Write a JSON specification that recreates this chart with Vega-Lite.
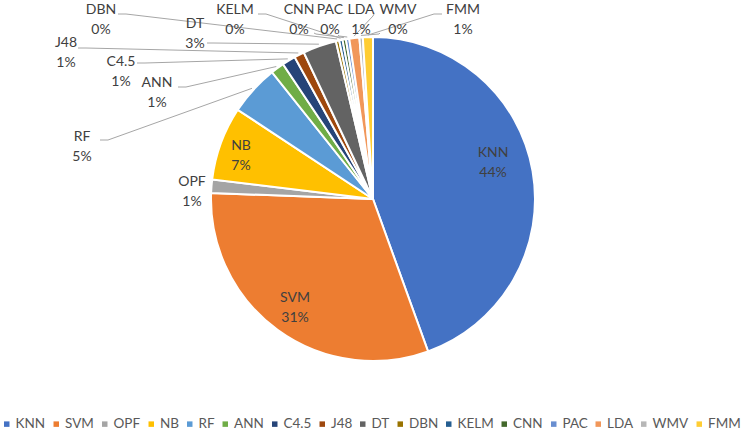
{
  "$schema": "https://vega.github.io/schema/vega-lite/v6.json",
  "width": 746,
  "height": 398,
  "padding": {"left": 0, "top": 0, "right": 5, "bottom": 0},
  "background": "white",
  "config": {"view": {"stroke": null}, "font": "Lato"},
  "data": {
    "values": [
      {"cls": "KNN", "n": 133},
      {"cls": "SVM", "n": 93},
      {"cls": "OPF", "n": 4},
      {"cls": "NB", "n": 22},
      {"cls": "RF", "n": 15},
      {"cls": "ANN", "n": 4},
      {"cls": "C4.5", "n": 4},
      {"cls": "J48", "n": 3},
      {"cls": "DT", "n": 10},
      {"cls": "DBN", "n": 1},
      {"cls": "KELM", "n": 1},
      {"cls": "CNN", "n": 1},
      {"cls": "PAC", "n": 1},
      {"cls": "LDA", "n": 3},
      {"cls": "WMV", "n": 1},
      {"cls": "FMM", "n": 3}
    ]
  },
  "transform": [
    {"window": [{"op": "row_number", "as": "idx"}]},
    {"window": [{"op": "sum", "field": "n", "as": "cum"}], "sort": [{"field": "idx"}], "frame": [null, 0]},
    {"joinaggregate": [{"op": "sum", "field": "n", "as": "total"}]},
    {"calculate": "(datum.cum - datum.n / 2) / datum.total * 2 * PI", "as": "mid"},
    {"calculate": "[datum.cls, format(datum.n / datum.total, '.0%')]", "as": "lbl"},
    {"calculate": "({'KNN':[120,-46],'SVM':[-78,99],'OPF':[-181,-17],'NB':[-132,-53],'RF':[-291,-62],'ANN':[-216,-116],'C4.5':[-252,-137],'J48':[-307,-156],'DT':[-178,-175],'DBN':[-272,-189],'KELM':[-138,-189],'CNN':[-74,-189],'PAC':[-43,-189],'LDA':[-12,-189],'WMV':[25,-189],'FMM':[90,-189]})[datum.cls]", "as": "lp"},
    {"calculate": "datum.lp[0]", "as": "lx"},
    {"calculate": "datum.lp[1]", "as": "ly"}
  ],
  "layer": [
    {
      "transform": [
        {"calculate": "({'DBN':[-255,-185,-247,-185],'KELM':[-115,-185,-107,-185],'CNN':[-59,-166,-57,-165],'PAC':[-35,-164,-34,-163],'LDA':[1,-185,0,-183],'WMV':[7,-166,6,-165],'FMM':[69,-185,61,-185],'DT':[-166,-156,-160,-156],'J48':[-295,-151,-287,-151],'C4.5':[-236,-136,-228,-136],'ANN':[-195,-112,-187,-112],'RF':[-273,-59,-265,-59]})[datum.cls]", "as": "ld"},
        {"filter": "isValid(datum.ld)"},
        {"calculate": "[datum.ld[0], datum.ld[2], 164 * sin(datum.mid)]", "as": "px"},
        {"calculate": "[datum.ld[1], datum.ld[3], -164 * cos(datum.mid)]", "as": "py"},
        {"calculate": "[0, 1, 2]", "as": "k"},
        {"flatten": ["px", "py", "k"]}
      ],
      "mark": {"type": "line", "stroke": "#a6a6a6", "strokeWidth": 1},
      "encoding": {
        "x": {"field": "px", "type": "quantitative", "scale": {"domain": [-373, 373], "nice": false, "zero": false}, "axis": null},
        "y": {"field": "py", "type": "quantitative", "scale": {"domain": [-199, 199], "reverse": true, "nice": false, "zero": false}, "axis": null},
        "detail": {"field": "cls", "type": "nominal"},
        "order": {"field": "k", "type": "quantitative"}
      }
    },
    {
      "mark": {"type": "arc", "outerRadius": 162, "stroke": "#ffffff", "strokeWidth": 2},
      "encoding": {
        "theta": {"field": "n", "type": "quantitative", "stack": true},
        "order": {"field": "idx", "type": "quantitative"},
        "color": {
          "field": "cls",
          "type": "nominal",
          "scale": {
            "domain": ["KNN", "SVM", "OPF", "NB", "RF", "ANN", "C4.5", "J48", "DT", "DBN", "KELM", "CNN", "PAC", "LDA", "WMV", "FMM"],
            "range": ["#4472C4", "#ED7D31", "#A5A5A5", "#FFC000", "#5B9BD5", "#70AD47", "#264478", "#9E480E", "#636363", "#997300", "#255E91", "#43682B", "#698ED0", "#F1975A", "#B7B7B7", "#FFCD33"]
          },
          "legend": {
            "title": null,
            "orient": "bottom",
            "direction": "horizontal",
            "columns": 16,
            "symbolType": "square",
            "symbolSize": 30,
            "symbolStrokeWidth": 0,
            "labelFontSize": 13.5,
            "labelColor": "#595959",
            "labelFont": "Lato",
            "columnPadding": 3.5,
            "labelOffset": 2,
            "offset": 19
          }
        }
      }
    },
    {
      "mark": {"type": "text", "fontSize": 14, "fill": "#404040", "align": "center", "baseline": "middle", "lineHeight": 19.5},
      "encoding": {
        "x": {"field": "lx", "type": "quantitative"},
        "y": {"field": "ly", "type": "quantitative"},
        "text": {"field": "lbl"}
      }
    }
  ]
}
